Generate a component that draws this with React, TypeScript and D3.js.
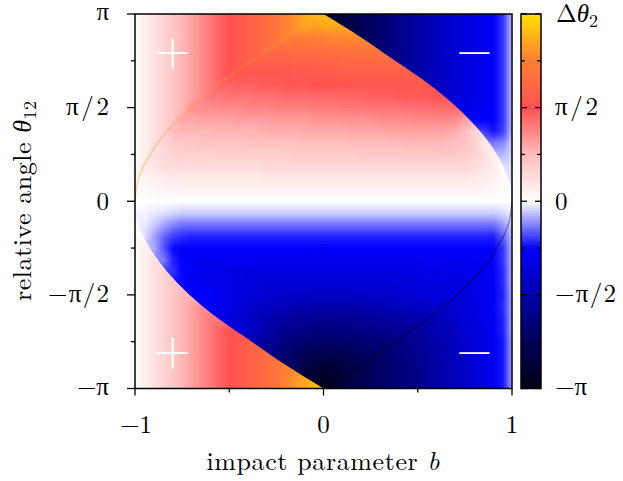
import React, { useMemo } from 'react';
import * as d3 from 'd3';

// impact parameter b (columns) and relative angle theta12 in units of pi (rows, top to bottom)
const bValues = [-1, -0.95, -0.9, -0.85, -0.8, -0.75, -0.7, -0.65, -0.6, -0.55, -0.5, -0.45, -0.4, -0.35, -0.3, -0.25, -0.2, -0.15, -0.1, -0.05, 0,
  0.05, 0.1, 0.15, 0.2, 0.25, 0.3, 0.35, 0.4, 0.45, 0.5, 0.55, 0.6, 0.65, 0.7, 0.75, 0.8, 0.85, 0.9, 0.95, 1];
const thetaValues = [1, 0.9375, 0.875, 0.8125, 0.75, 0.6875, 0.625, 0.5625, 0.5, 0.4375, 0.375, 0.3125, 0.25, 0.1875, 0.125, 0.0625, 0,
  -0.0625, -0.125, -0.1875, -0.25, -0.3125, -0.375, -0.4375, -0.5, -0.5625, -0.625, -0.6875, -0.75, -0.8125, -0.875, -0.9375, -1];

// delta theta2 in units of pi, one row per theta value
const deltaTheta2 = [
  [.02,.06,.11,.16,.21,.26,.31,.36,.41,.46,.50,.54,.58,.62,.66,.71,.76,.81,.86,.91,.92,-.90,-.85,-.80,-.76,-.72,-.68,-.64,-.60,-.56,-.52,-.48,-.44,-.41,-.38,-.35,-.32,-.29,-.26,-.20,-.06],
  [.02,.06,.11,.16,.21,.26,.31,.36,.41,.46,.50,.54,.58,.62,.66,.71,.76,.81,.86,.84,.85,.86,-.85,-.80,-.76,-.72,-.68,-.64,-.60,-.56,-.52,-.48,-.44,-.41,-.38,-.35,-.32,-.29,-.26,-.20,-.06],
  [.02,.06,.11,.16,.21,.26,.31,.36,.41,.46,.50,.54,.58,.62,.66,.71,.76,.74,.75,.75,.76,.77,.77,.78,-.76,-.72,-.68,-.64,-.60,-.56,-.52,-.48,-.44,-.41,-.38,-.35,-.32,-.29,-.26,-.20,-.06],
  [.02,.06,.11,.16,.21,.26,.31,.36,.41,.46,.50,.54,.58,.62,.66,.65,.66,.66,.67,.67,.68,.69,.69,.70,.70,.71,-.68,-.64,-.60,-.56,-.52,-.48,-.44,-.41,-.38,-.35,-.32,-.29,-.26,-.20,-.06],
  [.02,.06,.11,.16,.21,.26,.31,.36,.41,.46,.50,.54,.58,.58,.58,.59,.59,.60,.60,.61,.61,.61,.62,.62,.63,.63,.64,.64,-.60,-.56,-.52,-.48,-.44,-.41,-.38,-.35,-.32,-.29,-.26,-.20,-.06],
  [.02,.06,.11,.16,.21,.26,.31,.36,.41,.46,.50,.51,.52,.52,.53,.53,.53,.54,.54,.55,.55,.55,.56,.56,.57,.57,.57,.58,.58,.59,-.52,-.48,-.44,-.41,-.38,-.35,-.32,-.29,-.26,-.20,-.06],
  [.02,.06,.11,.16,.21,.26,.31,.36,.41,.46,.46,.47,.47,.47,.48,.48,.49,.49,.49,.50,.50,.50,.51,.51,.52,.52,.52,.53,.53,.53,.54,.54,-.44,-.41,-.38,-.35,-.32,-.29,-.26,-.20,-.06],
  [.02,.06,.11,.16,.21,.26,.31,.36,.41,.41,.42,.42,.42,.43,.43,.43,.44,.44,.44,.45,.45,.45,.46,.46,.46,.47,.47,.47,.48,.48,.48,.49,.49,-.41,-.38,-.35,-.32,-.29,-.26,-.20,-.06],
  [.02,.06,.11,.16,.21,.26,.36,.36,.36,.37,.37,.37,.38,.38,.38,.39,.39,.39,.39,.40,.40,.40,.41,.41,.41,.42,.42,.42,.42,.43,.43,.43,.44,.44,.44,-.33,-.31,-.29,-.26,-.20,-.06],
  [.02,.06,.11,.16,.21,.30,.30,.31,.31,.31,.31,.32,.32,.32,.32,.33,.33,.33,.33,.34,.34,.34,.35,.35,.35,.35,.36,.36,.36,.36,.37,.37,.37,.37,.36,.31,-.25,-.27,-.26,-.20,-.06],
  [.02,.06,.11,.16,.25,.26,.26,.26,.26,.27,.27,.27,.27,.27,.28,.28,.28,.28,.29,.29,.29,.29,.29,.30,.30,.30,.30,.31,.31,.31,.31,.31,.31,.30,.28,.24,.15,-.19,-.23,-.19,-.06],
  [.02,.06,.11,.15,.19,.21,.21,.22,.22,.22,.22,.22,.23,.23,.23,.23,.23,.23,.24,.24,.24,.24,.24,.25,.25,.25,.25,.25,.25,.26,.26,.26,.26,.25,.24,.22,.18,.08,-.13,-.12,-.04],
  [.02,.06,.12,.14,.16,.17,.17,.17,.17,.18,.18,.18,.18,.18,.18,.18,.18,.19,.19,.19,.19,.19,.19,.19,.20,.20,.20,.20,.20,.20,.20,.20,.20,.20,.20,.19,.17,.12,.05,-.07,-.04],
  [.02,.07,.10,.12,.13,.13,.13,.13,.13,.13,.13,.13,.13,.13,.14,.14,.14,.14,.14,.14,.14,.14,.14,.14,.14,.15,.15,.15,.15,.15,.15,.15,.15,.15,.15,.14,.13,.11,.07,.02,-.03],
  [.02,.04,.06,.07,.08,.08,.08,.08,.08,.08,.08,.08,.08,.08,.09,.09,.09,.09,.09,.09,.09,.09,.09,.09,.09,.09,.09,.09,.09,.09,.09,.09,.09,.09,.09,.09,.08,.07,.05,.02,-.03],
  [.01,.02,.03,.04,.045,.045,.045,.045,.045,.045,.045,.045,.045,.045,.045,.045,.045,.045,.045,.045,.045,.045,.045,.045,.045,.045,.045,.045,.045,.045,.045,.045,.045,.045,.045,.045,.045,.035,.025,.01,-.01],
  [0,0,0,0,0,0,0,0,0,0,0,0,0,0,0,0,0,0,0,0,0,0,0,0,0,0,0,0,0,0,0,0,0,0,0,0,0,0,0,0,0],
  [.01,-.01,-.02,-.03,-.04,-.05,-.05,-.05,-.05,-.05,-.05,-.05,-.05,-.05,-.05,-.05,-.05,-.05,-.05,-.05,-.05,-.05,-.05,-.05,-.05,-.05,-.05,-.05,-.05,-.05,-.05,-.05,-.05,-.05,-.05,-.05,-.05,-.05,-.05,-.04,-.02],
  [.02,-.02,-.05,-.09,-.12,-.14,-.14,-.14,-.14,-.14,-.14,-.14,-.14,-.14,-.14,-.14,-.14,-.14,-.14,-.14,-.14,-.14,-.14,-.14,-.14,-.14,-.14,-.14,-.14,-.14,-.14,-.14,-.14,-.14,-.14,-.14,-.14,-.14,-.14,-.10,-.05],
  [.02,-.03,-.09,-.15,-.19,-.21,-.22,-.22,-.22,-.22,-.22,-.22,-.22,-.22,-.22,-.22,-.22,-.22,-.22,-.22,-.22,-.22,-.22,-.22,-.22,-.22,-.22,-.22,-.22,-.22,-.22,-.22,-.22,-.22,-.22,-.22,-.22,-.22,-.22,-.16,-.06],
  [.02,.06,-.08,-.17,-.24,-.26,-.26,-.26,-.26,-.26,-.26,-.26,-.26,-.26,-.26,-.26,-.26,-.26,-.26,-.26,-.27,-.26,-.26,-.26,-.26,-.26,-.26,-.26,-.26,-.26,-.26,-.26,-.26,-.26,-.26,-.26,-.26,-.26,-.26,-.20,-.07],
  [.02,.06,.11,-.12,-.22,-.26,-.29,-.29,-.29,-.29,-.29,-.29,-.29,-.30,-.30,-.30,-.30,-.30,-.30,-.30,-.30,-.30,-.30,-.30,-.30,-.30,-.30,-.30,-.30,-.30,-.30,-.29,-.29,-.29,-.29,-.29,-.29,-.29,-.26,-.20,-.07],
  [.02,.06,.11,.16,-.20,-.25,-.27,-.29,-.30,-.31,-.32,-.33,-.34,-.34,-.34,-.34,-.34,-.34,-.34,-.34,-.34,-.34,-.34,-.34,-.34,-.34,-.34,-.34,-.34,-.33,-.33,-.32,-.32,-.31,-.31,-.30,-.30,-.30,-.27,-.21,-.07],
  [.02,.06,.11,.16,.21,-.24,-.27,-.29,-.30,-.32,-.33,-.34,-.35,-.36,-.37,-.38,-.38,-.38,-.38,-.38,-.38,-.38,-.38,-.38,-.38,-.38,-.37,-.37,-.36,-.36,-.35,-.35,-.34,-.34,-.34,-.34,-.33,-.30,-.27,-.21,-.07],
  [.02,.06,.11,.16,.21,.26,-.25,-.26,-.28,-.30,-.32,-.34,-.36,-.37,-.39,-.40,-.41,-.42,-.42,-.43,-.43,-.43,-.43,-.42,-.42,-.41,-.41,-.40,-.39,-.38,-.37,-.36,-.35,-.34,-.34,-.36,-.33,-.30,-.27,-.22,-.08],
  [.02,.06,.11,.16,.21,.26,.31,.36,-.27,-.30,-.33,-.36,-.39,-.41,-.43,-.45,-.46,-.48,-.49,-.50,-.50,-.50,-.50,-.50,-.49,-.48,-.47,-.46,-.45,-.44,-.43,-.42,-.41,-.42,-.39,-.36,-.33,-.30,-.27,-.21,-.08],
  [.02,.06,.11,.16,.21,.26,.31,.36,.41,-.30,-.34,-.38,-.42,-.45,-.48,-.51,-.53,-.55,-.56,-.57,-.57,-.57,-.57,-.56,-.56,-.55,-.54,-.53,-.51,-.50,-.49,-.48,-.46,-.43,-.40,-.37,-.34,-.31,-.28,-.22,-.08],
  [.02,.06,.11,.16,.21,.26,.31,.36,.41,.46,.50,-.35,-.40,-.45,-.50,-.54,-.58,-.60,-.62,-.63,-.64,-.64,-.63,-.62,-.61,-.60,-.59,-.58,-.57,-.56,-.55,-.51,-.48,-.45,-.42,-.38,-.35,-.32,-.28,-.22,-.08],
  [.02,.06,.11,.16,.21,.26,.31,.36,.41,.46,.50,.54,.58,-.50,-.56,-.60,-.63,-.66,-.68,-.69,-.70,-.70,-.69,-.68,-.67,-.66,-.65,-.64,-.63,-.60,-.57,-.53,-.50,-.47,-.43,-.40,-.36,-.33,-.29,-.23,-.09],
  [.02,.06,.11,.16,.21,.26,.31,.36,.41,.46,.50,.54,.58,.62,.66,-.62,-.68,-.72,-.75,-.77,-.79,-.78,-.77,-.76,-.74,-.72,-.70,-.67,-.64,-.61,-.58,-.54,-.51,-.48,-.44,-.41,-.37,-.33,-.29,-.23,-.09],
  [.02,.06,.11,.16,.21,.26,.31,.36,.41,.46,.50,.54,.58,.62,.66,.71,.76,-.72,-.80,-.85,-.87,-.86,-.84,-.81,-.77,-.74,-.71,-.68,-.65,-.62,-.59,-.55,-.52,-.48,-.45,-.41,-.37,-.33,-.29,-.23,-.09],
  [.02,.06,.11,.16,.21,.26,.31,.36,.41,.46,.50,.54,.58,.62,.66,.71,.76,.81,.86,-.88,-.93,-.91,-.86,-.81,-.78,-.74,-.71,-.68,-.65,-.62,-.59,-.55,-.52,-.48,-.45,-.41,-.37,-.33,-.29,-.23,-.09],
  [.02,.06,.11,.16,.21,.26,.31,.36,.41,.46,.50,.54,.58,.62,.66,.71,.76,.81,.86,.91,-.97,-.92,-.87,-.82,-.78,-.74,-.71,-.68,-.65,-.62,-.59,-.55,-.52,-.48,-.45,-.41,-.37,-.33,-.29,-.23,-.09],
];

// fold lines seen in the map: |b| against theta (units of pi)
const foldTheta = [0, 0.125, 0.25, 0.375, 0.5, 0.625, 0.75, 0.875, 1];
const foldB = [1, 0.98, 0.92, 0.83, 0.71, 0.56, 0.38, 0.2, 0];

// palette, values in units of pi
const paletteStops = [-1, -0.75, -0.5, -0.25, 0, 0.25, 0.5, 0.75, 1];
const paletteColors = ['#000012', '#000058', '#0000aa', '#0000ff', '#ffffff', '#ffbcbc', '#ff5252', '#ff7e36', '#ffe000'];

// ticks (theta in units of pi)
const xTicks = [-1, -0.5, 0, 0.5, 1];
const xTickLabels = ['−1', '', '0', '', '1'];
const yTicks = [1, 0.75, 0.5, 0.25, 0, -0.25, -0.5, -0.75, -1];
const yTickLabels = ['π', '', 'π/2', '', '0', '', '−π/2', '', '−π'];
const cbLabels = ['', '', 'π/2', '', '0', '', '−π/2', '', '−π'];

// region markers
const markerB = [-0.8, 0.8, -0.8, 0.8];
const markerTheta = [0.8, 0.8, -0.8, -0.8];
const markerText = ['+', '−', '+', '−'];

const FONT = "'Latin Modern Roman', 'CMU Serif', 'Liberation Serif', serif";
const PI = Math.PI;

const color = d3.scaleLinear<string>()
  .domain(paletteStops.map(v => v * PI))
  .range(paletteColors)
  .interpolate(d3.interpolateRgb)
  .clamp(true);

// one pixel per grid cell; cells on the other side of the sharp fold take the
// nearest value of the same sign from their row so the two sides don't bleed
function fieldImage(keep: (v: number) => boolean): string {
  const nc = bValues.length, nr = thetaValues.length;
  const canvas = document.createElement('canvas');
  canvas.width = nc;
  canvas.height = nr;
  const ctx = canvas.getContext('2d');
  if (!ctx) return '';
  const img = ctx.createImageData(nc, nr);
  deltaTheta2.forEach((row, i) => {
    row.forEach((v, j) => {
      let val = v;
      if (!keep(v)) {
        let best = v, dist = Infinity;
        row.forEach((w, k) => {
          if (keep(w) && Math.abs(k - j) < dist) { dist = Math.abs(k - j); best = w; }
        });
        val = best;
      }
      const c = d3.rgb(color(val * PI));
      const p = (i * nc + j) * 4;
      img.data[p] = c.r; img.data[p + 1] = c.g; img.data[p + 2] = c.b; img.data[p + 3] = 255;
    });
  });
  ctx.putImageData(img, 0, 0);
  return canvas.toDataURL();
}

// tick label widths to mimic the wider TeX glyphs
const labelLength = (s: string) => (s === 'π/2' ? 43 : s === '−π/2' ? 61 : undefined);
const labelDy = (s: string) => (s.includes('/') ? 7 : s.includes('π') ? 6 : 8.5);

export default function App() {
  const left = 135, right = 512, top = 14, bottom = 388.5;
  const cbLeft = 521, cbRight = 541;

  const x = d3.scaleLinear().domain([-1, 1]).range([left, right]);
  const y = d3.scaleLinear().domain([-PI, PI]).range([bottom, top]);

  const images = useMemo(() => ({
    neg: fieldImage(v => v <= 0),
    pos: fieldImage(v => v >= 0),
  }), []);

  const halfB = 0.025, halfT = PI / 32;
  const imgX = x(-1 - halfB), imgW = x(1 + halfB) - imgX;
  const imgY = y(PI + halfT), imgH = y(-PI - halfT) - imgY;

  const foldLine = d3.line<[number, number]>()
    .x(d => x(d[0]))
    .y(d => y(d[1] * PI))
    .curve(d3.curveMonotoneY);
  const upperFold = foldLine(foldB.map((b, i) => [-b, foldTheta[i]] as [number, number])) ?? '';
  const lowerFold = foldLine(foldB.map((b, i) => [b, -foldTheta[i]] as [number, number])) ?? '';
  const rightEdge = foldLine(foldB.map((b, i) => [b, foldTheta[i]] as [number, number]).reverse()) ?? '';
  const leftEdge = foldLine(foldB.map((b, i) => [-b, -foldTheta[i]] as [number, number])) ?? '';

  // region where delta theta2 is positive, bounded by the two sharp folds
  const posRegion =
    `M${x(-1.1)},${y(PI * 1.1)}L${x(0)},${y(PI * 1.1)}L${rightEdge.slice(1)}` +
    `L${x(1.1)},${y(0)}L${x(-1.1)},${y(0)}L${leftEdge.slice(1)}` +
    `L${x(0)},${y(-PI * 1.1)}L${x(-1.1)},${y(-PI * 1.1)}Z`;

  // colour bar strips
  const nStrips = 240;
  const strips = d3.range(nStrips).map(k => {
    const v0 = -PI + (k * 2 * PI) / nStrips;
    const v1 = v0 + (2 * PI) / nStrips;
    return <rect key={k} x={cbLeft} y={y(v1)} width={cbRight - cbLeft} height={y(v0) - y(v1) + 0.5}
      fill={color((v0 + v1) / 2)} />;
  });

  return (
    <svg width={623} height={481} style={{ position: 'absolute', left: 0, top: 0, background: '#fff' }}
      fontFamily={FONT}>
      <defs>
        <clipPath id="plotClip">
          <rect x={left} y={top} width={right - left} height={bottom - top} />
        </clipPath>
        <clipPath id="posClip">
          <path d={posRegion} />
        </clipPath>
      </defs>

      <g clipPath="url(#plotClip)">
        <image href={images.neg} x={imgX} y={imgY} width={imgW} height={imgH} preserveAspectRatio="none" />
        <g clipPath="url(#posClip)">
          <image href={images.pos} x={imgX} y={imgY} width={imgW} height={imgH} preserveAspectRatio="none" />
        </g>
        <g fill="none" strokeWidth={1.3}>
          <path d={upperFold} stroke="#ff9a30" strokeOpacity={0.45} />
          <path d={lowerFold} stroke="#000010" strokeOpacity={0.4} />
        </g>
      </g>

      {markerText.map((t, i) => (
        <text key={i} x={x(markerB[i])} y={y(markerTheta[i] * PI) + 14} fill="#fff"
          fontSize={46} textAnchor="middle">{t}</text>
      ))}

      <rect x={left} y={top} width={right - left} height={bottom - top} fill="none" stroke="#000" strokeWidth={1.5} />

      {/* y axis */}
      {yTicks.map((t, i) => {
        const major = yTickLabels[i] !== '';
        const s = yTickLabels[i];
        return (
          <g key={`yt${i}`}>
            <line x1={left - (major ? 8 : 4)} x2={left} y1={y(t * PI)} y2={y(t * PI)} stroke="#000" strokeWidth={1.3} />
            {major && (
              <text x={109} y={y(t * PI) + labelDy(s)} fontSize={25} textAnchor="end"
                textLength={labelLength(s)} lengthAdjust="spacing">{s}</text>
            )}
          </g>
        );
      })}

      {/* x axis */}
      {xTicks.map((t, i) => {
        const major = xTickLabels[i] !== '';
        return (
          <g key={`xt${i}`}>
            <line x1={x(t)} x2={x(t)} y1={bottom} y2={bottom + (major ? 7 : 4)} stroke="#000" strokeWidth={1.3} />
            {major && (
              <text x={x(t) + (t < 0 ? 1 : 0)} y={433} fontSize={25} textAnchor="middle">{xTickLabels[i]}</text>
            )}
          </g>
        );
      })}

      <text x={323} y={470} fontSize={26} textAnchor="middle" textLength={233} lengthAdjust="spacing">
        impact parameter <tspan fontStyle="italic">b</tspan>
      </text>
      <text transform="translate(31,201) rotate(-90)" fontSize={26} textAnchor="middle" textLength={200} lengthAdjust="spacing">
        relative angle <tspan fontStyle="italic">θ</tspan><tspan fontSize={18} dy={5}>12</tspan>
      </text>

      {/* colour bar */}
      <g shapeRendering="crispEdges">{strips}</g>
      {yTicks.map((t, i) => {
        const major = i % 2 === 0;
        const len = major ? 6 : 4;
        const yy = y(t * PI);
        return (
          <g key={`cb${i}`} stroke="#000" strokeWidth={1.3}>
            <line x1={cbLeft} x2={cbLeft + len} y1={yy} y2={yy} />
            <line x1={cbRight - len} x2={cbRight} y1={yy} y2={yy} />
          </g>
        );
      })}
      <rect x={cbLeft} y={top} width={cbRight - cbLeft} height={bottom - top} fill="none" stroke="#000" strokeWidth={1.5} />
      {yTicks.map((t, i) => cbLabels[i] !== '' && (
        <text key={`cbl${i}`} x={555} y={y(t * PI) + labelDy(cbLabels[i])} fontSize={25}
          textLength={labelLength(cbLabels[i])} lengthAdjust="spacing">{cbLabels[i]}</text>
      ))}
      <text x={556} y={22} fontSize={25}>
        Δ<tspan fontStyle="italic">θ</tspan><tspan fontSize={18} dy={5}>2</tspan>
      </text>
    </svg>
  );
}
